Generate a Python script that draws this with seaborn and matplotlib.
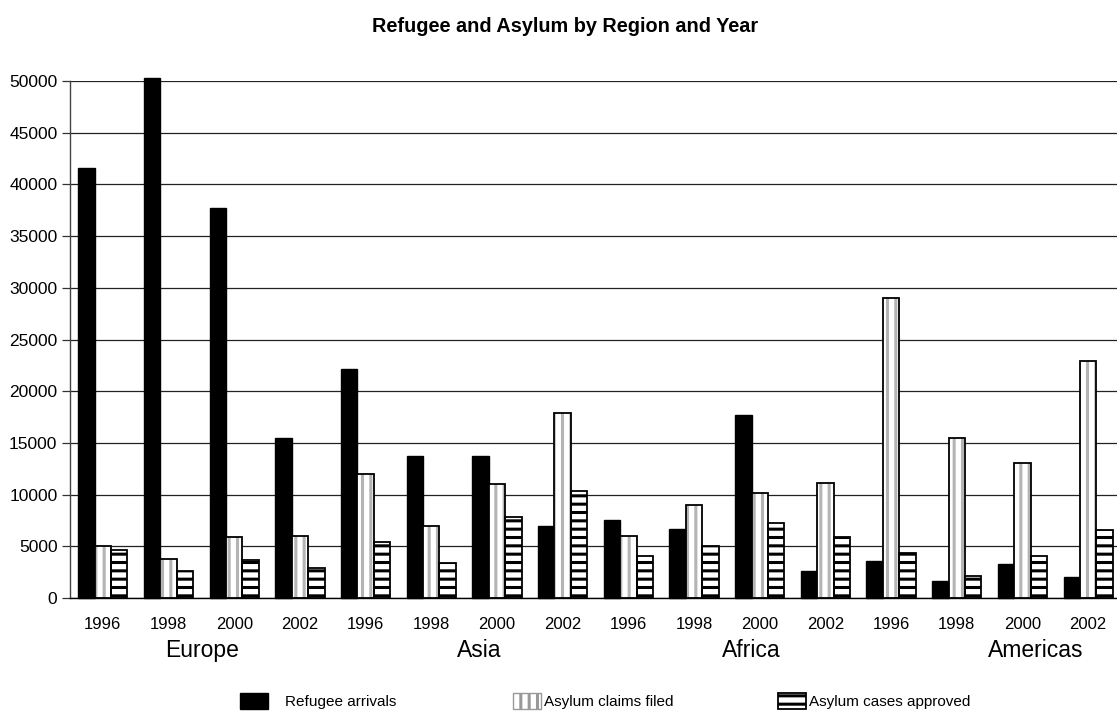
import matplotlib
matplotlib.use("Agg")
import matplotlib.pyplot as plt
import matplotlib.transforms as mtransforms
from matplotlib.patches import Patch, Rectangle
import pandas as pd
import seaborn as sns

# ---- data ----
regions = ["Europe", "Asia", "Africa", "Americas"]
years = ["1996", "1998", "2000", "2002"]
series = ["Refugee arrivals", "Asylum claims filed", "Asylum cases approved"]

refugee_arrivals = [41600, 50300, 37700, 15500,
                    22100, 13700, 13700, 7000,
                    7500, 6700, 17700, 2600,
                    3600, 1600, 3300, 2000]
asylum_claims = [5000, 3800, 5900, 6000,
                 12000, 7000, 11000, 17900,
                 6000, 9000, 10200, 11100,
                 29000, 15500, 13100, 22900]
asylum_approved = [4600, 2600, 3700, 2900,
                   5400, 3400, 7800, 10300,
                   4100, 5000, 7300, 5900,
                   4400, 2100, 4100, 6600]
y_ticks = list(range(0, 50001, 5000))

# ---- long-form table ----
slots = [f"{r} {y}" for r in regions for y in years]
rows = []
for name, vals in zip(series, [refugee_arrivals, asylum_claims, asylum_approved]):
    for slot, v in zip(slots, vals):
        rows.append({"slot": slot, "series": name, "value": v})
df = pd.DataFrame(rows)

sns.set_theme(style="white")
plt.rcParams["font.family"] = ["Liberation Sans", "DejaVu Sans"]
plt.rcParams["text.color"] = "black"
plt.rcParams["xtick.color"] = "black"
plt.rcParams["ytick.color"] = "black"
plt.rcParams["axes.labelcolor"] = "black"
plt.rcParams["hatch.linewidth"] = 2.2

W, H = 1117, 711
fig = plt.figure(figsize=(W / 100, H / 100), dpi=100)
ax = fig.add_axes([70 / W, 113 / H, 1051 / W, 517 / H])

sns.barplot(data=df, x="slot", y="value", hue="series", order=slots,
            hue_order=series, palette=["black", "white", "white"],
            saturation=1, width=0.75, errorbar=None, legend=False, ax=ax)

STRIPE_GREY = "#b4b4b4"
arrivals_c, claims_c, approved_c = ax.containers[:3]
for p in arrivals_c:
    p.set_facecolor("black")
    p.set_edgecolor("black")
    p.set_linewidth(1.0)
    p.set_clip_on(False)
for p in claims_c:
    p.set_facecolor("white")
    p.set_edgecolor(STRIPE_GREY)
    p.set_linewidth(0)
    p.set_hatch("||")
    p.set_clip_on(False)
    ax.add_patch(Rectangle((p.get_x(), p.get_y()), p.get_width(), p.get_height(),
                           fill=False, edgecolor="black", linewidth=1.3,
                           zorder=p.get_zorder() + 0.1))
for p in approved_c:
    p.set_facecolor("white")
    p.set_edgecolor("black")
    p.set_linewidth(1.3)
    p.set_hatch("--")
    p.set_clip_on(False)

# ---- axes ----
ax.set_ylim(0, 50000)
ax.set_xlim(-0.5, len(slots) - 0.5)
ax.set_yticks(y_ticks)
ax.set_yticklabels([str(t) for t in y_ticks], fontsize=12.5, color="black")
ax.yaxis.grid(True, color="#222222", linewidth=0.9)
ax.set_axisbelow(True)

ax.set_xticks(range(len(slots)))
ax.set_xticklabels(years * len(regions), fontsize=12, color="black")
ax.set_xticks([i * len(years) - 0.5 for i in range(len(regions) + 1)], minor=True)
ax.tick_params(axis="x", which="major", length=0, pad=14, labelcolor="black")
ax.tick_params(axis="x", which="minor", length=5, width=0.9, direction="out", color="#333333")
ax.tick_params(axis="y", which="major", length=6, width=0.9, direction="out", pad=3,
               color="#333333", labelcolor="black", left=True)
ax.set_xlabel("")
ax.set_ylabel("")

for side in ("top", "right"):
    ax.spines[side].set_visible(False)
ax.spines["left"].set_color("#444444")
ax.spines["left"].set_linewidth(1.0)
ax.spines["bottom"].set_color("black")
ax.spines["bottom"].set_linewidth(1.0)

# region captions under each year group
region_label_x = [1.51, 5.73, 9.87, 14.2]
trans = mtransforms.blended_transform_factory(ax.transData, ax.transAxes)
for name, xpos in zip(regions, region_label_x):
    ax.text(xpos, -0.1025, name, transform=trans, ha="center", va="center",
            fontsize=16.5, color="black")

# title
fig.text(565 / W, 1 - 27 / H, "Refugee and Asylum by Region and Year",
         ha="center", va="center", fontsize=14.3, fontweight="bold", color="black")

# legend entries laid out along the bottom
handles = [
    Patch(facecolor="black", edgecolor="black"),
    Patch(facecolor="white", edgecolor="#999999", hatch="||", linewidth=1.0),
    Patch(facecolor="white", edgecolor="black", hatch="--", linewidth=1.3),
]
legend_x = [240, 513, 778]
text_pad = [1.1, 0.15, 0.15]
for h, label, lx, tp in zip(handles, series, legend_x, text_pad):
    leg = fig.legend([h], [label], loc="center left", bbox_to_anchor=(lx / W, 1 - 701 / H),
                     frameon=False, fontsize=11, handlelength=1.85, handleheight=1.2,
                     handletextpad=tp, borderpad=0, borderaxespad=0, labelcolor="black")

fig.savefig("out.png", dpi=100, facecolor="white")
